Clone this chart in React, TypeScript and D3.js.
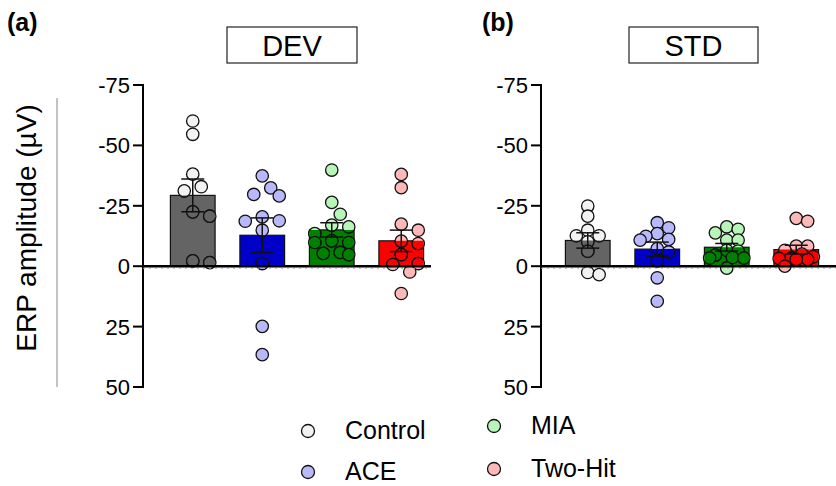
import * as d3 from 'd3'

const groups = ['Control', 'ACE', 'MIA', 'Two-Hit']
const yTicks = [-75, -50, -25, 0, 25, 50]

// DEV amplitudes (µV), read per animal
const devControl = [-60.1, -54.6, -38.1, -32.9, -31.2, -22.5, -20.7, -2.2, -1.5]
const devAce = [-37.4, -32.4, -29.7, -29.1, -20.4, -18.8, -18.6, -14.9, -1.1, 24.9, 36.6]
const devMia = [-39.8, -26.4, -21.5, -17.0, -16.3, -13.5, -10.5, -9.8, -9.8, -5.7, -5.3, -4.8]
const devTwoHit = [-38.0, -32.5, -17.4, -14.9, -10.4, -9.4, -4.8, -1.1, -0.7, 2.4, 11.3]

// STD amplitudes (µV)
const stdControl = [-24.9, -20.7, -14.9, -12.6, -12.6, -10.1, -6.2, 2.6, 3.5]
const stdAce = [-18.0, -15.9, -13.5, -12.4, -11.1, -10.8, -7.3, -5.9, -2.2, 4.8, 14.5]
const stdMia = [-16.3, -15.3, -13.8, -10.8, -10.8, -6.6, -6.3, -4.6, -3.6, -3.4, -3.4, 0.8]
const stdTwoHit = [-19.8, -18.6, -8.3, -8.3, -6.6, -5.0, -3.9, -3.2, -3.2, -2.8, -2.8, 0]

const barFill = ['#646464', '#0000c8', '#008000', '#ff0000']
const dotFill = ['#f2f2f2', '#b8b8fa', '#b8f5b8', '#ffb8b8']

const font = "'Liberation Sans', Arial, sans-serif"

const y = d3.scaleLinear().domain([-75, 50]).range([85, 387])

interface SwarmPoint {
  dx: number
  cy: number
}

// simple beeswarm, offsets limited to +-maxOff; if nothing fits take the least crowded slot
function swarm(values: number[], step: number, minDist: number, maxOff: number): SwarmPoint[] {
  const placed: SwarmPoint[] = []
  const sorted = [...values].sort((a, b) => a - b)
  const kMax = Math.round(maxOff / step)
  const offsets: number[] = [0]
  for (let k = 1; k <= kMax; k += 1) offsets.push(k * step, -k * step)
  for (const v of sorted) {
    const cy = y(v)
    let best = offsets[0]
    let bestGap = -Infinity
    for (const off of offsets) {
      const gap = placed.length ? Math.min(...placed.map((p) => Math.hypot(p.dx - off, p.cy - cy))) : Infinity
      if (gap >= minDist) {
        best = off
        break
      }
      if (gap > bestGap) {
        bestGap = gap
        best = off
      }
    }
    placed.push({ dx: best, cy })
  }
  return placed
}

interface PanelProps {
  id: string
  label: string
  title: string
  series: number[][]
  axisX: number
  bandStart: number
  lineEnd: number
  titleBox: [number, number]
  step: number
  minDist: number
}

function Panel({ id, label, title, series, axisX, bandStart, lineEnd, titleBox, step, minDist }: PanelProps) {
  const x = d3
    .scaleBand<string>()
    .domain(groups)
    .range([bandStart, bandStart + 278])
    .paddingInner(0.357)
    .paddingOuter(0.1785)
  const bw = x.bandwidth()
  const y0 = y(0)
  const r = 6.2

  const stats = series.map((vals) => {
    const mean = d3.mean(vals) ?? 0
    const sem = (d3.deviation(vals) ?? 0) / Math.sqrt(vals.length)
    return { mean, sem }
  })

  return (
    <g>
      <text x={label === '(a)' ? 7 : 482} y={31} fontFamily={font} fontWeight="bold" fontSize={25}>
        {label}
      </text>
      <rect x={titleBox[0]} y={27} width={titleBox[1] - titleBox[0]} height={36} fill="white" stroke="#222" strokeWidth={1.2} />
      <text x={(titleBox[0] + titleBox[1]) / 2} y={56} textAnchor="middle" fontFamily={font} fontSize={29}>
        {title}
      </text>

      {/* y axis */}
      <line x1={axisX} x2={axisX} y1={y(-75) - 1} y2={y(50) + 1} stroke="black" strokeWidth={2} />
      {yTicks.map((t) => (
        <g key={t}>
          <line x1={axisX - 10} x2={axisX} y1={y(t)} y2={y(t)} stroke="black" strokeWidth={2} />
          <text x={axisX - 13} y={y(t) + 8} textAnchor="end" fontFamily={font} fontSize={22}>
            {t}
          </text>
        </g>
      ))}

      <defs>
        {groups.map((g, i) => {
          const top = y(Math.min(0, stats[i].mean))
          const bottom = y(Math.max(0, stats[i].mean))
          return (
            <clipPath key={g} id={`clip-${id}-${i}`}>
              <rect x={x(g)} y={top} width={bw} height={bottom - top} />
            </clipPath>
          )
        })}
      </defs>

      {groups.map((g, i) => {
        const top = y(Math.min(0, stats[i].mean))
        const bottom = y(Math.max(0, stats[i].mean))
        const cx = (x(g) ?? 0) + bw / 2
        const pts = swarm(series[i], step, minDist, 17)
        return (
          <g key={g}>
            <rect x={x(g)} y={top} width={bw} height={bottom - top} fill={barFill[i]} stroke="#111" strokeWidth={1.2} />
            {pts.map((p, j) => (
              <circle key={j} cx={cx + p.dx} cy={p.cy} r={r} fill={dotFill[i]} stroke="#111" strokeWidth={1.3} />
            ))}
            <g clipPath={`url(#clip-${id}-${i})`}>
              {pts.map((p, j) => (
                <circle key={j} cx={cx + p.dx} cy={p.cy} r={r} fill={barFill[i]} stroke="#111" strokeWidth={1.3} />
              ))}
            </g>
          </g>
        )
      })}

      {/* zero line */}
      <line x1={axisX} x2={lineEnd} y1={y0 + 2} y2={y0 + 2} stroke="#b0b0b0" strokeWidth={1} strokeDasharray="2 4" />
      <line x1={axisX} x2={lineEnd} y1={y0} y2={y0} stroke="black" strokeWidth={2.4} />

      {groups.map((g, i) => {
        const cx = (x(g) ?? 0) + bw / 2
        const hi = y(stats[i].mean - stats[i].sem)
        const lo = y(stats[i].mean + stats[i].sem)
        return (
          <g key={g} stroke="#111" strokeWidth={1.5}>
            <line x1={cx} x2={cx} y1={hi} y2={lo} />
            <line x1={cx - 11.5} x2={cx + 11.5} y1={hi} y2={hi} />
            <line x1={cx - 11.5} x2={cx + 11.5} y1={lo} y2={lo} />
          </g>
        )
      })}
    </g>
  )
}

const legendItems = [
  { name: 'Control', cx: 308, cy: 431, fill: dotFill[0] },
  { name: 'ACE', cx: 308, cy: 472, fill: dotFill[1] },
  { name: 'MIA', cx: 494, cy: 426, fill: dotFill[2] },
  { name: 'Two-Hit', cx: 494, cy: 469, fill: dotFill[3] },
]

export default function App() {
  return (
    <svg
      width={836}
      height={486}
      viewBox="0 0 836 486"
      style={{ position: 'absolute', left: 0, top: 0, background: 'white' }}
    >
      <rect width={836} height={486} fill="white" />
      <text
        transform="translate(36, 228) rotate(-90)"
        textAnchor="middle"
        fontFamily={font}
        fontSize={28}
      >
        ERP amplitude (µV)
      </text>
      <line x1={57} x2={57} y1={98} y2={387} stroke="#888" strokeWidth={1} />

      <Panel
        id="dev"
        label="(a)"
        title="DEV"
        series={[devControl, devAce, devMia, devTwoHit]}
        axisX={143}
        bandStart={158}
        lineEnd={431}
        titleBox={[227, 357]}
        step={8.5}
        minDist={12.6}
      />
      <Panel
        id="std"
        label="(b)"
        title="STD"
        series={[stdControl, stdAce, stdMia, stdTwoHit]}
        axisX={541}
        bandStart={553}
        lineEnd={836}
        titleBox={[629, 758]}
        step={5.7}
        minDist={9}
      />

      {legendItems.map((d) => (
        <g key={d.name}>
          <circle cx={d.cx} cy={d.cy} r={6.5} fill={d.fill} stroke="#111" strokeWidth={1.3} />
          <text x={d.cx + 37} y={d.cy + 8} fontFamily={font} fontSize={25}>
            {d.name}
          </text>
        </g>
      ))}
    </svg>
  )
}
